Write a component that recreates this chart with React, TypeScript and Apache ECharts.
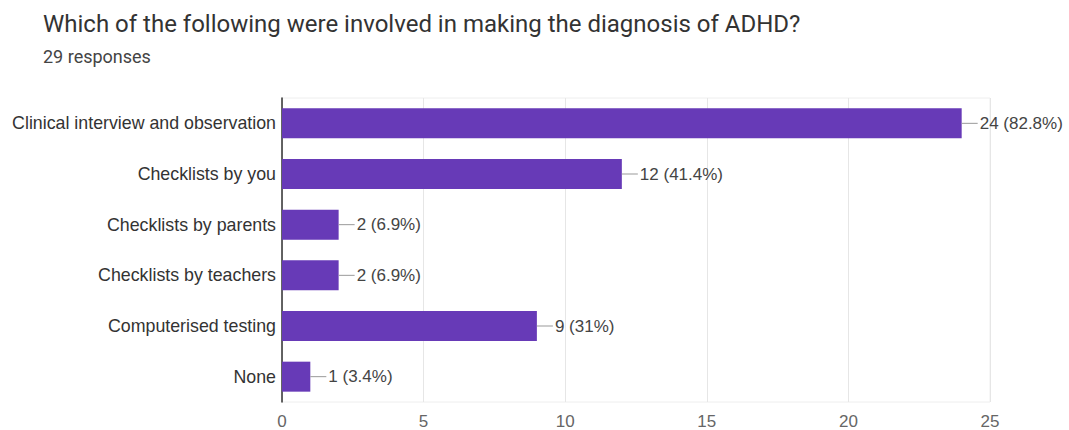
import React, { useEffect, useRef } from "react";
import * as echarts from "echarts";

const TOTAL_RESPONSES = 29;
const categories = [
  "Clinical interview and observation",
  "Checklists by you",
  "Checklists by parents",
  "Checklists by teachers",
  "Computerised testing",
  "None",
];
const counts = [24, 12, 2, 2, 9, 1];
const xTicks = [0, 5, 10, 15, 20, 25];

const BAR_COLOR = "#673ab7";
const FONT = "Arial, 'Liberation Sans', sans-serif";

function pctLabel(v: number): string {
  const p = Math.round((v / TOTAL_RESPONSES) * 1000) / 10;
  const s = p % 1 === 0 ? p.toFixed(0) : p.toFixed(1);
  return `${v} (${s}%)`;
}

export default function App() {
  const ref = useRef<HTMLDivElement>(null);

  useEffect(() => {
    if (!ref.current) return;
    const chart = echarts.init(ref.current, undefined, { renderer: "svg" });
    chart.setOption({
      animation: false,
      backgroundColor: "#ffffff",
      title: {
        text: "Which of the following were involved in making the diagnosis of ADHD?",
        subtext: "29 responses",
        left: 38,
        top: 7,
        itemGap: 11,
        textStyle: {
          fontFamily: "Roboto, Arial, sans-serif",
          fontWeight: "normal",
          fontSize: 24,
          color: "#333333",
        },
        subtextStyle: {
          fontFamily: "Roboto, Arial, sans-serif",
          fontSize: 18,
          color: "#444444",
        },
      },
      grid: {
        left: 282,
        right: 79,
        top: 98,
        bottom: 28,
        show: true,
        borderColor: "#eeeeee",
        borderWidth: 1,
      },
      xAxis: {
        type: "value",
        min: xTicks[0],
        max: xTicks[xTicks.length - 1],
        interval: 5,
        axisLine: { show: false },
        axisTick: { show: false },
        splitLine: { show: true, lineStyle: { color: "#e6e6e6", width: 1 } },
        axisLabel: {
          fontFamily: FONT,
          fontSize: 17,
          color: "#666666",
          margin: 11,
        },
      },
      yAxis: {
        type: "category",
        data: categories,
        inverse: true,
        axisLine: { show: true, lineStyle: { color: "#333333", width: 1.5 } },
        axisTick: { show: false },
        axisLabel: {
          fontFamily: FONT,
          fontSize: 17.8,
          color: "#333333",
          margin: 6,
        },
      },
      series: [
        {
          type: "bar",
          data: counts,
          barWidth: 30,
          itemStyle: { color: BAR_COLOR },
          label: {
            show: true,
            position: "right",
            distance: 18,
            fontFamily: FONT,
            fontSize: 17,
            color: "#444444",
            formatter: (p: any) => pctLabel(p.value as number),
          },
        },
        {
          // short leader line from each bar end to its value label
          type: "custom",
          data: counts.map((v, i) => [v, i]),
          encode: { x: 0, y: 1 },
          silent: true,
          renderItem: (params: any, api: any) => {
            const pt = api.coord([api.value(0), api.value(1)]);
            return {
              type: "line",
              shape: { x1: pt[0], y1: pt[1], x2: pt[0] + 16, y2: pt[1] },
              style: { stroke: "#999999", lineWidth: 1 },
            };
          },
          z: 3,
        },
      ],
    });
    return () => chart.dispose();
  }, []);

  return (
    <div
      ref={ref}
      style={{ position: "absolute", left: 0, top: 0, width: 1069, height: 430 }}
    />
  );
}
